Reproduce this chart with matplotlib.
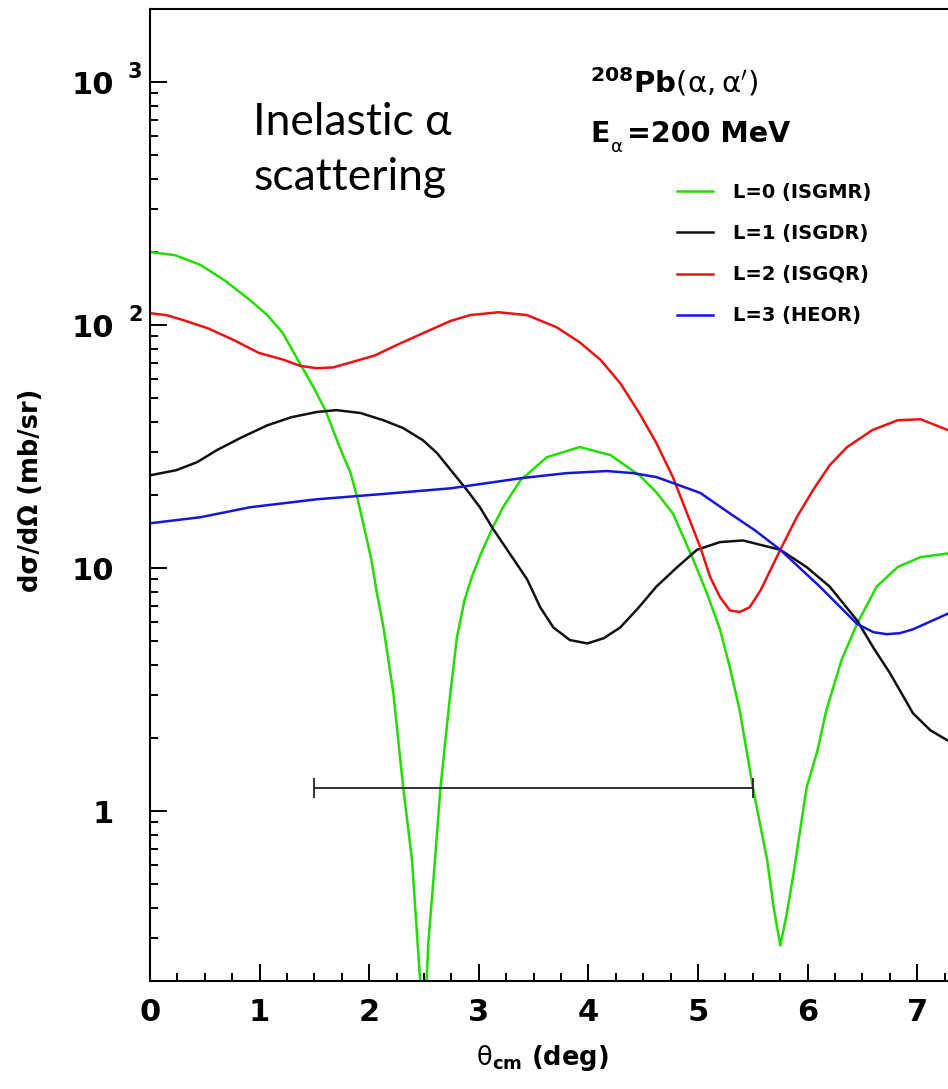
import matplotlib
matplotlib.use('Agg')
import matplotlib.pyplot as plt
from matplotlib.ticker import MultipleLocator, LogLocator, NullFormatter, FixedLocator, FixedFormatter
from matplotlib import transforms

W, H = 948, 1089

# --- data (theta_cm in deg, dsigma/dOmega in mb/sr) ---
x_l0 = [0, 0.23, 0.46, 0.68, 0.91, 1.07, 1.21, 1.38, 1.49, 1.60, 1.73, 1.83, 1.89,
        1.96, 2.02, 2.07, 2.13, 2.22, 2.31, 2.39, 2.46, 2.50, 2.54, 2.60, 2.65, 2.74,
        2.80, 2.87, 2.94, 3.02, 3.13, 3.22, 3.38, 3.62, 3.92, 4.20, 4.47, 4.62, 4.77,
        4.95, 5.08, 5.20, 5.29, 5.38, 5.50, 5.63, 5.69, 5.75, 5.81, 5.87, 5.99, 6.09,
        6.17, 6.31, 6.45, 6.63, 6.82, 7.03, 7.28]
y_l0 = [200, 194, 177, 153, 127, 110, 93, 68, 55.7, 44.7, 31.5, 24.6, 19.6,
        14.3, 10.8, 7.9, 5.7, 3.06, 1.25, 0.63, 0.215, 0.12, 0.29, 0.63, 1.25, 3.06,
        5.2, 7.4, 9.3, 11.5, 14.8, 17.8, 23, 28.6, 31.5, 29.2, 24, 20.5, 16.8,
        11, 7.9, 5.6, 3.9, 2.6, 1.25, 0.63, 0.40, 0.28, 0.38, 0.55, 1.25, 1.78,
        2.6, 4.2, 5.9, 8.4, 10.1, 11.1, 11.5]

x_l1 = [0, 0.24, 0.43, 0.61, 0.84, 1.07, 1.29, 1.52, 1.70, 1.92, 2.13, 2.31, 2.49,
        2.62, 2.89, 3.01, 3.13, 3.44, 3.56, 3.68, 3.83, 3.99, 4.14, 4.29, 4.46, 4.62,
        4.81, 4.99, 5.20, 5.41, 5.75, 5.99, 6.20, 6.45, 6.60, 6.75, 6.96, 7.12, 7.28]
y_l1 = [24.1, 25.3, 27.3, 30.6, 34.6, 38.7, 41.8, 43.9, 44.7, 43.5, 40.6, 37.7, 33.6,
        29.7, 21, 17.8, 14.5, 9.0, 6.9, 5.7, 5.06, 4.9, 5.15, 5.7, 6.9, 8.4,
        10.1, 11.9, 12.8, 13.0, 11.9, 10.1, 8.4, 6.1, 4.7, 3.7, 2.53, 2.15, 1.95]

x_l2 = [0, 0.15, 0.30, 0.53, 0.76, 0.99, 1.22, 1.37, 1.52, 1.67, 1.82, 2.05, 2.28,
        2.51, 2.74, 2.92, 3.18, 3.44, 3.71, 3.92, 4.11, 4.29, 4.47, 4.62, 4.77, 5.02,
        5.11, 5.20, 5.29, 5.38, 5.47, 5.57, 5.75, 5.90, 6.05, 6.20, 6.36, 6.59, 6.82,
        7.03, 7.28]
y_l2 = [112, 110, 105, 97, 87, 77, 72, 68, 66.5, 67, 70, 75, 84,
        93.5, 104, 110, 113, 110, 98, 85, 72, 57.7, 43, 32.7, 23.7, 12.2,
        9.2, 7.6, 6.7, 6.6, 6.9, 8.1, 11.9, 16.2, 21, 26.5, 31.5, 37, 40.6,
        41, 37]

x_l3 = [0, 0.46, 0.91, 1.52, 2.13, 2.74, 3.40, 3.80, 4.17, 4.41, 4.62, 5.02, 5.29,
        5.52, 5.75, 6.11, 6.45, 6.60, 6.72, 6.84, 6.96, 7.28]
y_l3 = [15.3, 16.2, 17.8, 19.2, 20.2, 21.3, 23.5, 24.6, 25.1, 24.6, 23.7, 20.4, 16.8,
        14.3, 11.9, 8.4, 5.9, 5.45, 5.35, 5.4, 5.6, 6.5]

labels = ['L=0 (ISGMR)', 'L=1 (ISGDR)', 'L=2 (ISGQR)', 'L=3 (HEOR)']
colors = ['#22dd00', '#111111', '#ee1111', '#1515dd']

# horizontal bar (center, half-width, height)
bar_x, bar_xerr, bar_y = 3.5, 2.0, 1.25

y_ticks = [1, 10, 100, 1000]
y_tick_labels = ['1', '10', '10', '10']
y_sup = {100: '2', 1000: '3'}


def fpx(x, y):
    """pixel -> figure fraction"""
    return x / W, 1 - y / H


fig = plt.figure(figsize=(W / 100, H / 100), dpi=100)
ax = fig.add_axes([150 / W, 108 / H, 798 / W, 972 / H])

series = [(x_l0, y_l0), (x_l1, y_l1), (x_l2, y_l2), (x_l3, y_l3)]
handles = []
for (xs, ys), lab, col in zip(series, labels, colors):
    h, = ax.plot(xs, ys, color=col, lw=1.8, label=lab, solid_joinstyle='round')
    handles.append(h)

ax.errorbar([bar_x], [bar_y], xerr=[bar_xerr], fmt='none', ecolor='#222222',
            elinewidth=1.3, capsize=7, capthick=1.3)

ax.set_yscale('log')
ax.set_xlim(0, 7.28)
ax.set_ylim(0.2, 2000)

for s in ['left', 'bottom', 'top']:
    ax.spines[s].set_linewidth(1.5)
ax.spines['right'].set_visible(False)

ax.xaxis.set_major_locator(MultipleLocator(1))
ax.xaxis.set_minor_locator(MultipleLocator(0.25))
ax.yaxis.set_major_locator(FixedLocator(y_ticks))
ax.yaxis.set_major_formatter(FixedFormatter(y_tick_labels))
ax.yaxis.set_minor_locator(LogLocator(base=10, subs=range(2, 10)))
ax.yaxis.set_minor_formatter(NullFormatter())

ax.tick_params(which='both', direction='in', top=False, right=False, width=1.4)
ax.tick_params(which='major', length=12)
ax.tick_params(which='minor', length=6)
ax.tick_params(axis='x', which='major', pad=12, labelsize=22)
ax.tick_params(axis='y', which='major', pad=26, labelsize=22)
for lab in ax.get_xticklabels() + ax.get_yticklabels():
    lab.set_fontweight('bold')

# superscripts for 10^2, 10^3
ytr = transforms.offset_copy(ax.get_yaxis_transform(), fig=fig, x=0, y=7, units='points')
for val, sup in y_sup.items():
    ax.text((128 - 150) / 798, val, sup, transform=ytr, fontsize=15, fontweight='bold',
            ha='left', va='center')

ax.set_xlabel(r'$\mathrm{\theta}_{\mathbf{cm}}$ (deg)', fontsize=18.5, fontweight='bold')
ax.xaxis.set_label_coords((542 - 150) / 798, (981 - 1043) / 972)
ax.set_ylabel('dσ/dΩ (mb/sr)', fontsize=18.5, fontweight='bold')
ax.yaxis.set_label_coords((44 - 150) / 798, 0.505)

# annotation texts
fig.text(*fpx(253, 135), 'Inelastic α', fontsize=32, family=['Lato', 'DejaVu Sans'],
         ha='left', va='baseline')
fig.text(*fpx(253, 190), 'scattering', fontsize=32, family=['Lato', 'DejaVu Sans'],
         ha='left', va='baseline')
fig.text(*fpx(590, 92), r'$^{\mathbf{208}}\mathbf{Pb}(\mathrm{\alpha},\mathrm{\alpha}^{\prime})$',
         fontsize=21, ha='left', va='baseline')
fig.text(*fpx(590, 142), 'E', fontsize=20.5, fontweight='bold', ha='left', va='baseline')
fig.text(*fpx(611, 152), 'α', fontsize=13, ha='left', va='baseline')
fig.text(*fpx(627, 142), '=200 MeV', fontsize=20.5, fontweight='bold', ha='left', va='baseline')

leg = ax.legend(handles=handles, loc='upper left', bbox_to_anchor=fpx(677, 183),
                bbox_transform=fig.transFigure, frameon=False,
                prop={'weight': 'bold', 'size': 14}, handlelength=1.85,
                handletextpad=1.03, labelspacing=1.14, borderpad=0, borderaxespad=0)

fig.savefig('out.png', dpi=100)
